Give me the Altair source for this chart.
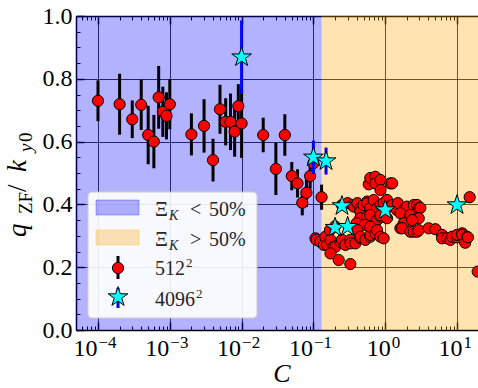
import altair as alt
import pandas as pd

FONT = "'Liberation Serif', 'Times New Roman', Times, 'DejaVu Serif', serif"

# ---------------- data ----------------
# 512^2 runs, Xi_K < 50% region (with visible error bars)
c512_low = [1e-4, 2e-4, 3e-4, 4e-4, 5e-4, 6e-4, 7e-4, 8e-4, 9e-4, 1e-3,
            2e-3, 3e-3, 4e-3, 5e-3, 6e-3, 7e-3, 8e-3, 9e-3, 1e-2,
            2e-2, 3e-2, 4e-2, 5e-2, 6e-2, 7e-2, 8e-2, 9e-2, 0.1, 0.13]
q512_low = [0.730, 0.719, 0.671, 0.717, 0.621, 0.600, 0.741, 0.695, 0.682, 0.719,
            0.623, 0.650, 0.541, 0.703, 0.663, 0.663, 0.632, 0.713, 0.658,
            0.621, 0.513, 0.621, 0.490, 0.467, 0.405, 0.437, 0.490, 0.531, 0.423]
e512_low = [0.065, 0.097, 0.060, 0.080, 0.093, 0.085, 0.100, 0.080, 0.075, 0.080,
            0.067, 0.085, 0.068, 0.078, 0.075, 0.090, 0.080, 0.070, 0.110,
            0.055, 0.083, 0.066, 0.045, 0.045, 0.040, 0.045, 0.040, 0.030, 0.040]

# 512^2 runs, dense cluster at larger C
c512_high = [0.59, 0.62, 0.73, 0.73, 0.86, 0.86, 1.18, 1.25,
             0.25, 0.30, 0.35, 0.365, 0.41, 0.45, 0.45, 0.50, 0.56, 0.56, 0.62, 0.69,
             0.77, 0.77, 0.86, 0.95, 1.06, 1.15, 1.25, 1.46, 1.5, 1.9, 2.02, 2.5,
             2.78, 2.93, 3.09,
             0.45, 0.56, 0.62, 0.77, 0.86, 0.86, 1.06, 1.63, 2.24, 2.78, 2.93, 1.81,
             2.37, 0.40, 0.52,
             1.63, 1.72, 2.24, 2.49, 2.78, 2.93, 4.03, 5.0, 6.2, 6.2, 7.28, 8.1, 8.55,
             10.0, 10.0, 11.8, 11.8, 13.0, 13.8, 14.2,
             15.0, 19.4,
             0.107, 0.11, 0.125, 0.14, 0.147, 0.155, 0.17, 0.173, 0.19, 0.202, 0.2,
             0.238, 0.25, 0.279, 0.327, 0.33, 0.385, 0.41, 0.45, 0.452, 0.53, 0.62,
             0.62, 0.62, 0.731, 0.77, 0.857, 0.95,
             0.173, 0.225, 0.327]
q512_high = [0.464, 0.484, 0.488, 0.467, 0.478, 0.446, 0.467, 0.467,
             0.398, 0.404, 0.398, 0.393, 0.404, 0.388, 0.377, 0.398, 0.409, 0.404, 0.388, 0.414,
             0.377, 0.388, 0.398, 0.404, 0.414, 0.393, 0.398, 0.382, 0.404, 0.388, 0.393, 0.398,
             0.398, 0.388, 0.389,
             0.356, 0.361, 0.366, 0.350, 0.361, 0.366, 0.356, 0.372, 0.366, 0.356, 0.356, 0.340,
             0.350, 0.340, 0.335,
             0.324, 0.324, 0.313, 0.313, 0.313, 0.318, 0.324, 0.321, 0.303, 0.292, 0.292, 0.287, 0.297,
             0.295, 0.303, 0.308, 0.303, 0.278, 0.297, 0.295,
             0.423, 0.186,
             0.292, 0.287, 0.281, 0.271, 0.297, 0.271, 0.318, 0.287, 0.265, 0.265, 0.330,
             0.281, 0.287, 0.271, 0.287, 0.276, 0.276, 0.318, 0.292, 0.297, 0.287, 0.297,
             0.303, 0.329, 0.308, 0.318, 0.297, 0.292,
             0.244, 0.223, 0.210]
e512_high = [0.015] * len(c512_high)

# 4096^2 runs
c4096 = [0.01, 0.1, 0.15, 0.25, 0.2, 0.3, 1.0, 10.0]
q4096 = [0.869, 0.550, 0.538, 0.395, 0.326, 0.329, 0.382, 0.398]
e4096 = [0.117, 0.053, 0.043, 0.010, 0.010, 0.010, 0.010, 0.010]

# regime boundary and axis ranges
C_BOUNDARY = 0.13
XMIN, XMAX = 4.94e-5, 19.6
x_major = [1e-4, 1e-3, 1e-2, 1e-1, 1e0, 1e1]
y_major = [0.0, 0.2, 0.4, 0.6, 0.8, 1.0]

# ---------------- tables ----------------
c512 = c512_low + c512_high
q512 = q512_low + q512_high
e512 = e512_low + e512_high
df512 = pd.DataFrame({"C": c512, "q": q512,
                      "lo": [q - e for q, e in zip(q512, e512)],
                      "hi": [q + e for q, e in zip(q512, e512)]})
df4096 = pd.DataFrame({"C": c4096, "q": q4096,
                       "lo": [q - e for q, e in zip(q4096, e4096)],
                       "hi": [q + e for q, e in zip(q4096, e4096)]})
regions = pd.DataFrame({"x0": [XMIN, C_BOUNDARY], "x1": [C_BOUNDARY, XMAX],
                        "y0": [0, 0], "y1": [1, 1],
                        "reg": ["low", "high"]})
one = pd.DataFrame({"a": [0]})

x_minor = [m * 10.0 ** e for e in range(-5, 2) for m in range(2, 10)
           if XMIN <= m * 10.0 ** e <= XMAX]
y_minor = [round(0.05 * i, 2) for i in range(21) if i % 4 != 0]

W, H = 402, 314
xs = alt.Scale(type="log", domain=[XMIN, XMAX], nice=False)
ys = alt.Scale(domain=[0, 1], nice=False)

STAR = ("M0,-1L0.2245,-0.309L0.951,-0.309L0.363,0.118L0.588,0.809L0,0.382"
        "L-0.588,0.809L-0.363,0.118L-0.951,-0.309L-0.2245,-0.309Z")

# ---------------- data marks ----------------
region_layer = alt.Chart(regions).mark_rect(opacity=0.3).encode(
    x=alt.X("x0:Q", scale=xs, axis=None), x2="x1:Q",
    y=alt.Y("y0:Q", scale=ys, axis=None), y2="y1:Q",
    color=alt.Color("reg:N", scale=alt.Scale(domain=["low", "high"],
                                             range=["#0000ff", "#ffa500"]), legend=None))

err512 = alt.Chart(df512).mark_rule(color="black", strokeWidth=3).encode(
    x=alt.X("C:Q", scale=xs, axis=None),
    y=alt.Y("lo:Q", scale=ys, axis=None), y2="hi:Q")
pts512 = alt.Chart(df512).mark_point(shape="circle", filled=True, fill="#ff0000",
                                     stroke="black", strokeWidth=1, size=125,
                                     opacity=1).encode(
    x=alt.X("C:Q", scale=xs, axis=None), y=alt.Y("q:Q", scale=ys, axis=None))
err4096 = alt.Chart(df4096).mark_rule(color="#0000ff", strokeWidth=3).encode(
    x=alt.X("C:Q", scale=xs, axis=None),
    y=alt.Y("lo:Q", scale=ys, axis=None), y2="hi:Q")
pts4096 = alt.Chart(df4096).mark_point(shape=STAR, filled=True, fill="#00ffff",
                                       stroke="black", strokeWidth=1, size=430,
                                       opacity=1).encode(
    x=alt.X("C:Q", scale=xs, axis=None), y=alt.Y("q:Q", scale=ys, axis=None))

# ---------------- axes ----------------
OFF_BASE = {"condition": {"test": "datum.value < 0.5", "value": -1}, "value": 5}
OFF_EXP = {"condition": {"test": "datum.value < 0.5", "value": 0}, "value": 6}

def axis_layer(xaxis, yaxis=None):
    return alt.Chart(df4096).mark_point(opacity=0).encode(
        x=alt.X("C:Q", scale=xs, axis=xaxis),
        y=alt.Y("q:Q", scale=ys, axis=yaxis))

common = dict(title=None, labelFlush=False, labelOverlap=False)

ax_bottom_main = alt.Axis(orient="bottom", values=x_major, labelExpr="'10'",
                          labelAlign="right", labelOffset=OFF_BASE, labelBaseline="alphabetic",
                          labelPadding=25, labelFontSize=24, labelFont=FONT, labelColor="black",
                          ticks=False, tickSize=0, domain=True, domainColor="black",
                          domainWidth=1.5, grid=True, gridColor="black", gridOpacity=0.8,
                          gridWidth=1, **common)
ax_bottom_exp = alt.Axis(orient="bottom", values=x_major,
                         labelExpr="datum.value < 0.5 ? '\u2212' + format(-round(log(datum.value)/LN10), 'd') : format(round(log(datum.value)/LN10), 'd')",
                         labelAlign="left", labelOffset=OFF_EXP, labelBaseline="alphabetic",
                         labelPadding=17, labelFontSize=17, labelFont=FONT, labelColor="black",
                         ticks=False, tickSize=0, domain=False, grid=False, **common)
def tick_axis(orient, values, size, width):
    return alt.Axis(orient=orient, values=values, labels=False, domain=False, grid=False,
                    ticks=True, tickSize=size, tickWidth=width, tickColor="black",
                    offset=-size, **common)
ax_top_domain = alt.Axis(orient="top", labels=False, ticks=False, tickSize=0, grid=False,
                         domain=True, domainColor="black", domainWidth=1.5, **common)

ay_main = alt.Axis(orient="left", values=y_major, format=".1f", labelFontSize=24,
                   labelFont=FONT, labelColor="black", labelPadding=4, ticks=False,
                   tickSize=0, domain=True, domainColor="black", domainWidth=1.5,
                   grid=True, gridColor="black", gridOpacity=0.8, gridWidth=1, **common)

axes_layers = [
    axis_layer(ax_bottom_main, ay_main),
    axis_layer(ax_bottom_exp, tick_axis("left", y_major, 8, 1.5)),
    axis_layer(tick_axis("bottom", x_major, 8, 1.5), tick_axis("left", y_minor, 4, 1)),
    axis_layer(tick_axis("bottom", x_minor, 4, 1)),
    axis_layer(tick_axis("top", x_major, 8, 1.5)),
    axis_layer(tick_axis("top", x_minor, 4, 1)),
    axis_layer(ax_top_domain),
]

# ---------------- text helpers ----------------
def txt(s, x, y, size, style="normal", angle=0, color="black"):
    return alt.Chart(one).mark_text(text=s, fontSize=size, font=FONT, fontStyle=style,
                                    angle=angle, align="left", baseline="alphabetic",
                                    color=color).encode(x=alt.value(x), y=alt.value(y))

# axis titles
titles = [
    txt("q", -50, 221, 27, "italic", 270),
    txt("ZF", -44, 198, 19, "normal", 270),
    txt("/", -50, 176, 27, "normal", 270),
    txt("k", -50, 156, 27, "italic", 270),
    txt("y", -44, 136, 19, "italic", 270),
    txt("0", -44, 126, 19, "normal", 270),
    alt.Chart(one).mark_text(text="C", fontSize=26, font=FONT, fontStyle="italic",
                             align="center", baseline="alphabetic", color="black").encode(
        x=alt.value(206), y=alt.value(366)),
]

# ---------------- legend ----------------
def box(x0, x1, y0, y1, **kw):
    return alt.Chart(one).mark_rect(**kw).encode(
        x=alt.value(x0), x2=alt.value(x1), y=alt.value(y0), y2=alt.value(y1))

LC = "#262626"
legend = [
    box(12, 181, 176, 302, fill="white", fillOpacity=0.9, stroke="#cccccc",
        strokeWidth=1, cornerRadius=4),
    box(20, 63, 184, 199, fill="#0000ff", fillOpacity=0.3, stroke="#0000ff",
        strokeOpacity=0.3, strokeWidth=1),
    box(20, 63, 214, 229, fill="#ffa500", fillOpacity=0.3, stroke="#ffa500",
        strokeOpacity=0.3, strokeWidth=1),
    alt.Chart(one).mark_rule(color="black", strokeWidth=3).encode(
        x=alt.value(42), y=alt.value(240), y2=alt.value(263)),
    alt.Chart(one).mark_point(shape="circle", filled=True, fill="#ff0000", stroke="black",
                              strokeWidth=1, size=125, opacity=1).encode(
        x=alt.value(42), y=alt.value(252)),
    alt.Chart(one).mark_rule(color="#0000ff", strokeWidth=3).encode(
        x=alt.value(42), y=alt.value(272), y2=alt.value(292)),
    alt.Chart(one).mark_point(shape=STAR, filled=True, fill="#00ffff", stroke="black",
                              strokeWidth=1, size=430, opacity=1).encode(
        x=alt.value(42), y=alt.value(281)),
    txt("\u039e", 79, 200, 20, color=LC),
    txt("K", 93, 204, 14, "italic", color=LC),
    txt("<", 114, 200, 20, color=LC),
    txt("50%", 133, 200, 20, color=LC),
    txt("\u039e", 79, 230, 20, color=LC),
    txt("K", 93, 234, 14, "italic", color=LC),
    txt(">", 114, 230, 20, color=LC),
    txt("50%", 133, 230, 20, color=LC),
    txt("512", 79, 259, 20, color=LC),
    txt("2", 110, 251, 13, color=LC),
    txt("4096", 79, 290, 20, color=LC),
    txt("2", 120, 282, 13, color=LC),
]

chart = alt.layer(
    region_layer, *axes_layers, err512, pts512, err4096, pts4096, *legend, *titles
).resolve_axis(x="independent", y="independent").properties(
    width=W, height=H, autosize="none",
    padding={"left": 76, "top": 16, "right": 0, "bottom": 58},
).configure_view(stroke=None)

chart.save("out.html", embed_options={"renderer": "svg", "actions": False})
